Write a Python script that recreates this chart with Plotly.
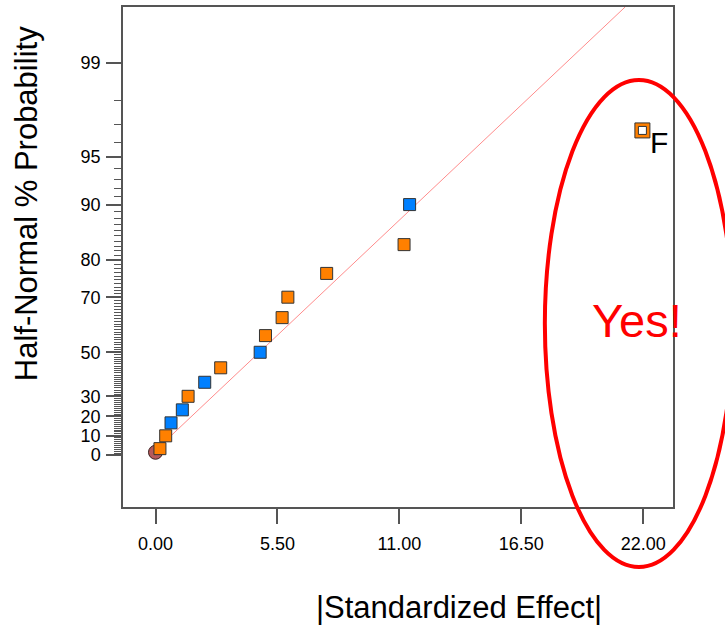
import plotly.graph_objects as go
from statistics import NormalDist

# ---- data ----
effect_abs = [0.20, 0.46, 0.70, 1.21, 1.47, 2.22, 2.94, 4.72, 4.96, 5.71, 5.97, 7.72, 11.21, 11.46, 21.96]
prob_pct = [3.3, 10.0, 16.7, 23.3, 30.0, 36.7, 43.3, 50.0, 56.7, 63.3, 70.0, 76.7, 83.3, 90.0, 96.7]
sign = ["pos", "pos", "neg", "neg", "pos", "neg", "pos", "neg", "pos", "pos", "pos", "pos", "pos", "neg", "pos"]
term_label = ["", "", "", "", "", "", "", "", "", "", "", "", "", "", "F"]

error_effect = [0.0]
error_prob = [1.4]

line_effect = [0.0, 21.18]
line_prob = [2.4, 99.675]

x_tickvals = [0.0, 5.5, 11.0, 16.5, 22.0]
x_ticktext = ["0.00", "5.50", "11.00", "16.50", "22.00"]
y_major = [0, 10, 20, 30, 50, 70, 80, 90, 95, 99]
y_minor = [p for p in range(1, 99) if p not in y_major]

nd = NormalDist()


def hn(p):
    """half-normal probability scale"""
    return nd.inv_cdf(0.5 + p / 200.0) if p > 0 else 0.0


FONT = "Liberation Sans"
ORANGE = "#ff8000"
BLUE = "#0080ff"

fig = go.Figure()

# fitted line
fig.add_trace(go.Scatter(
    x=line_effect, y=[hn(p) for p in line_prob], mode="lines",
    line=dict(color="#ff8c8c", width=1), hoverinfo="skip", showlegend=False))

# error point (circle)
fig.add_trace(go.Scatter(
    x=error_effect, y=[hn(p) for p in error_prob], mode="markers",
    marker=dict(symbol="circle", size=14, color="#b55a5a",
                line=dict(color="#3a2020", width=1)), showlegend=False))

# effects
normal_idx = [i for i in range(len(effect_abs)) if term_label[i] == ""]
fig.add_trace(go.Scatter(
    x=[effect_abs[i] for i in normal_idx],
    y=[hn(prob_pct[i]) for i in normal_idx], mode="markers",
    marker=dict(symbol="square", size=12,
                color=[ORANGE if sign[i] == "pos" else BLUE for i in normal_idx],
                line=dict(color="#333333", width=1)), showlegend=False))

lab_idx = [i for i in range(len(effect_abs)) if term_label[i] != ""]
fig.add_trace(go.Scatter(
    x=[effect_abs[i] for i in lab_idx],
    y=[hn(prob_pct[i]) for i in lab_idx], mode="markers",
    marker=dict(symbol="square", size=15,
                color=[ORANGE if sign[i] == "pos" else BLUE for i in lab_idx],
                line=dict(color="#333333", width=1)), showlegend=False))
fig.add_trace(go.Scatter(
    x=[effect_abs[i] for i in lab_idx],
    y=[hn(prob_pct[i]) for i in lab_idx], mode="markers",
    marker=dict(symbol="square", size=8, color="white",
                line=dict(color="#333333", width=1)), showlegend=False))

for i in lab_idx:
    fig.add_annotation(x=effect_abs[i], y=hn(prob_pct[i]), text=term_label[i],
                       showarrow=False, xanchor="left", yanchor="middle",
                       xshift=6, yshift=-12,
                       font=dict(family=FONT, size=30, color="black"))

# red highlight ellipse and text
fig.add_shape(type="circle", xref="paper", yref="paper",
              x0=0.767, x1=1.109, y0=-0.12, y1=0.854,
              line=dict(color="#ff0000", width=4), layer="above")
fig.add_annotation(xref="paper", yref="paper", x=0.9345, y=0.374, text="Yes!",
                   showarrow=False, xanchor="center", yanchor="middle",
                   font=dict(family=FONT, size=47, color="#ff0000"))

# axis titles
fig.add_annotation(xref="paper", yref="paper", x=0.611, y=-0.2,
                   text="|Standardized Effect|", showarrow=False,
                   xanchor="center", yanchor="middle",
                   font=dict(family=FONT, size=31, color="black"))
fig.add_annotation(xref="paper", yref="paper", x=-0.175, y=0.607,
                   text="Half-Normal % Probability", showarrow=False, textangle=-90,
                   xanchor="center", yanchor="middle",
                   font=dict(family=FONT, size=31, color="black"))

fig.update_layout(
    width=725, height=627,
    margin=dict(l=123, r=52, t=7, b=120, autoexpand=False),
    plot_bgcolor="white", paper_bgcolor="white",
    font=dict(family=FONT, color="black"),
    showlegend=False,
)

fig.update_xaxes(
    range=[-1.466, 23.34], showgrid=False, zeroline=False, automargin=False,
    showline=True, mirror=True, linecolor="#555555", linewidth=1.5,
    tickmode="array", tickvals=x_tickvals, ticktext=x_ticktext,
    ticks="outside", ticklen=15, tickcolor="#555555", tickwidth=1.5,
    ticklabelstandoff=5,
    tickfont=dict(family=FONT, size=18, color="black"),
)
fig.update_yaxes(
    range=[-0.342, 2.943], showgrid=False, zeroline=False, automargin=False,
    showline=True, mirror=True, linecolor="#555555", linewidth=1.5,
    tickmode="array", tickvals=[hn(p) for p in y_major],
    ticktext=[str(p) for p in y_major],
    ticks="outside", ticklen=15, tickcolor="#555555", tickwidth=1.5,
    ticklabelstandoff=2,
    tickfont=dict(family=FONT, size=18, color="black"),
    minor=dict(tickvals=[hn(p) for p in y_minor], ticks="outside",
               ticklen=7, tickcolor="#555555", tickwidth=1, showgrid=False),
)

fig.write_html("out.html", config={"displayModeBar": False},
               post_script="document.body.style.margin='0';document.body.style.overflow='hidden';")
